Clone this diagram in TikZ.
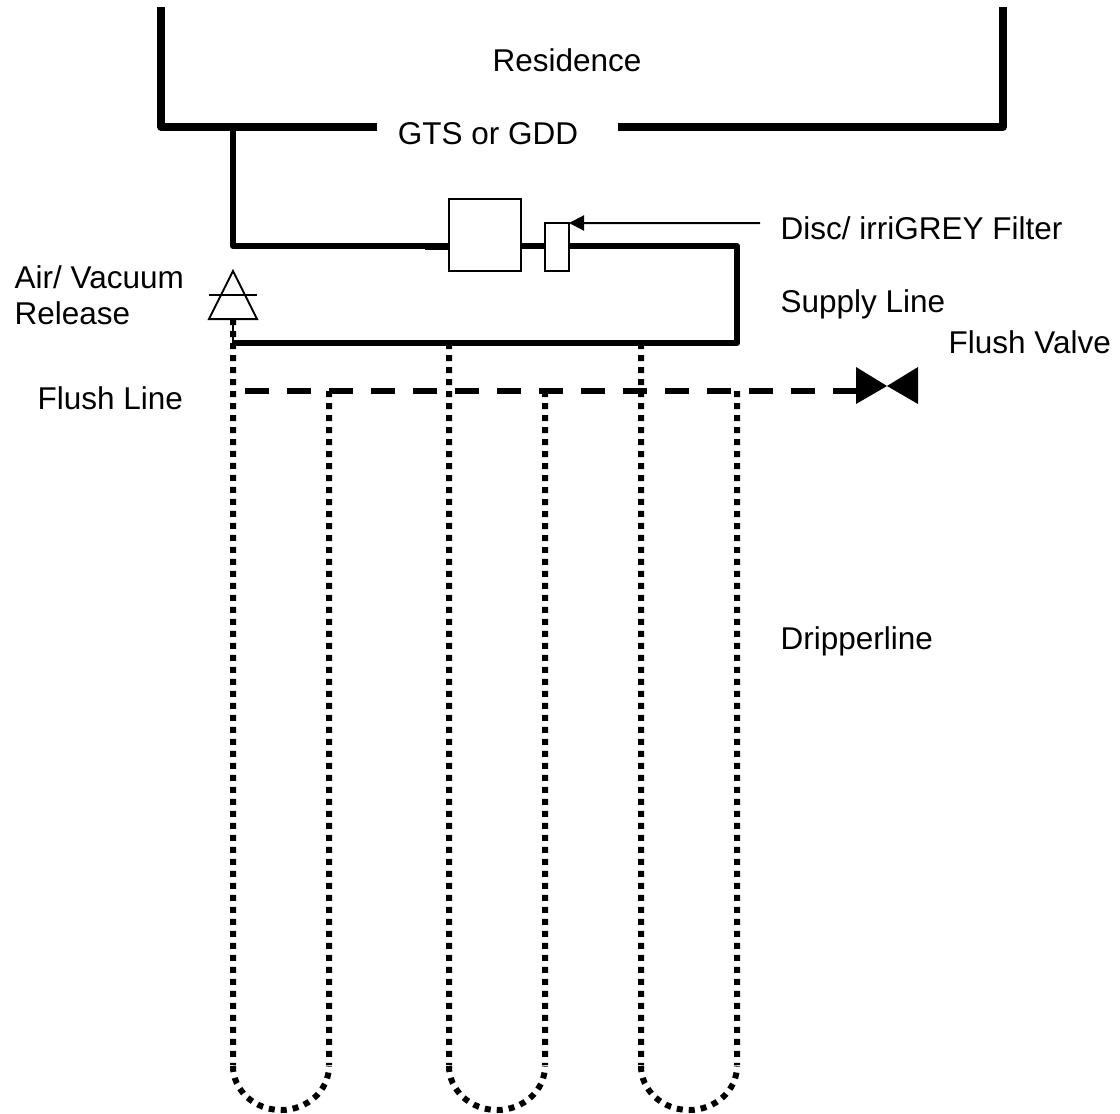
\documentclass[tikz,border=0pt]{standalone}
\usepackage{fontspec}
\setmainfont{Liberation Sans}
\usetikzlibrary{arrows.meta}
\tikzset{
    wall/.style={line width=.076cm, line join=round},
    pipeline/.style={line width=.06cm, line join=round},
    dripline/.style={line width=.06cm, dash pattern=on .06cm off .06cm},
    flushline/.style={line width=.06cm, dash pattern=on .24cm off .18cm},
    fitting/.style={draw, line width=.02cm, fill=white, inner sep=0pt, outer sep=0pt},
    labeltext/.style={font=\fontsize{8.96}{10.2}\selectfont, inner sep=0pt, align=left}
}

\begin{document}
\begin{tikzpicture}
    \useasboundingbox (0,0) rectangle (11.2,11.13);
    % dripperline loops
    \coordinate (airbase) at (2.33,7.94);
    \coordinate (returnline) at (2.33,7.70);
    \draw[line width=.02cm] (airbase) -- (returnline);
    \draw[dripline] (airbase) -- (2.33,0.48) (2.33,0.47) arc[start angle=180, end angle=360, x radius=.48, y radius=.44] (3.29,7.22) -- (3.29,0.48);
    \draw[dripline] (4.49,7.70) -- (4.49,0.48) (4.49,0.47) arc[start angle=180, end angle=360, x radius=.48, y radius=.44] (5.45,7.22) -- (5.45,0.48);
    \draw[dripline] (6.41,7.70) -- (6.41,0.48) (6.41,0.47) arc[start angle=180, end angle=360, x radius=.48, y radius=.44] (7.37,7.22) -- (7.37,0.48);
    % residence
    \node[labeltext, anchor=center] (residence) at (5.67,10.53) {Residence};
    \node[labeltext, anchor=center] (gts) at (4.88,9.79) {GTS or GDD};
    \coordinate (wallleft) at (1.61,11.06);
    \coordinate (wallright) at (10.03,11.06);
    \coordinate (teeleft) at (2.33,9.86);
    \draw[wall] (wallleft) |- (3.77,9.86);
    \draw[wall] (wallright) |- (6.18,9.86);
    % supply line
    \node[fitting, minimum width=.72cm, minimum height=.72cm] (pump) at (4.85,8.78) {};
    \node[fitting, minimum width=.24cm, minimum height=.48cm] (filter) at (5.57,8.66) {};
    \coordinate (pumpin) at (4.49,8.67);
    \draw[pipeline] (teeleft) -- (2.33,8.67) -- (pumpin);
    \draw[line width=.07cm] (4.25,8.67) -- (pumpin);
    \draw[pipeline] (5.21,8.67) -- (5.45,8.67);
    \draw[pipeline] (5.69,8.67) -- (7.37,8.67) -- (7.37,7.70) -- (returnline);
    % air vacuum release
    \draw[fitting] (2.33,8.42) -- (2.57,7.94) -- (2.09,7.94) -- cycle;
    \draw[line width=.02cm] (2.09,8.18) -- (2.57,8.18);
    % flush line and valve
    \coordinate (flushstart) at (2.45,7.22);
    \coordinate (valvewaist) at (8.87,7.27);
    \draw[flushline] (flushstart) -- (8.56,7.22);
    \fill (8.56,7.46) -- (valvewaist) -- (8.56,7.09) -- cycle;
    \fill (9.18,7.46) -- (valvewaist) -- (9.18,7.09) -- cycle;
    % labels
    \node[labeltext, anchor=west] (filterlabel) at (7.80,8.85) {Disc/ irriGREY Filter};
    \coordinate (filterarrow) at (7.60,8.90);
    \draw[-{Triangle[length=.15cm, width=.15cm]}, line width=.02cm] (filterarrow) -- (filter.north east);
    \node[labeltext, anchor=west] (supplylabel) at (7.80,8.09) {Supply Line};
    \node[labeltext, anchor=west] (valvelabel) at (9.48,7.71) {Flush Valve};
    \node[labeltext, anchor=west] (flushlabel) at (0.37,7.15) {Flush Line};
    \node[labeltext, anchor=west] (dripperlabel) at (7.80,4.72) {Dripperline};
    \node[labeltext, anchor=west] (airlabel) at (0.14,8.18) {Air/ Vacuum\\Release};
\end{tikzpicture}
\end{document}
